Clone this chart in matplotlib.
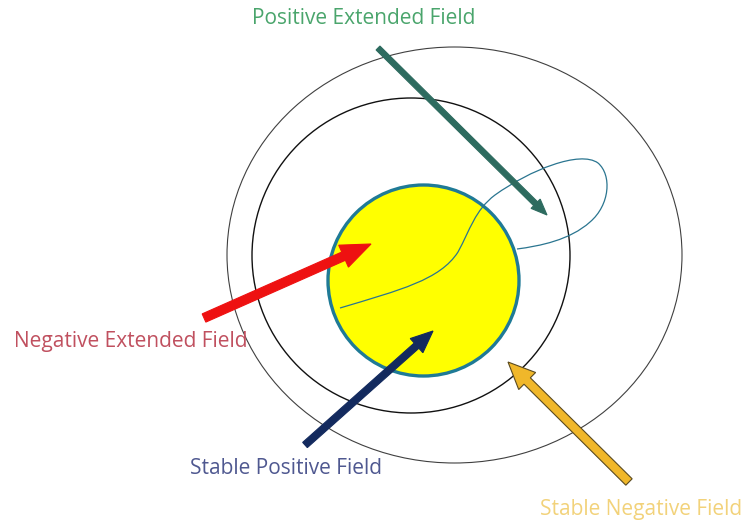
import matplotlib
matplotlib.use("Agg")
import matplotlib.pyplot as plt
from matplotlib.patches import Ellipse, FancyArrow, PathPatch
from matplotlib.path import Path

# ---- data (pixel-space diagram) ----
ring_centers = [(454.5, 255.0), (411.0, 255.5)]
ring_sizes = [(455.0, 416.0), (318.0, 315.0)]
ring_colors = ["#404040", "#111111"]
ring_widths = [0.8, 1.0]

core_center = (423.5, 280.5)
core_radius = 95.5

# loop curve: start point followed by cubic Bezier triples (control, control, end)
loop_start = (340, 308)
loop_segments = [
    [(400, 290), (440, 280), (458, 252)],
    [(470, 230), (475, 210), (495, 195)],
    [(530, 170), (580, 150), (598, 163)],
    [(612, 175), (610, 205), (590, 222)],
    [(570, 240), (540, 246), (517, 249)],
]

arrow_names = ["Positive Extended Field", "Negative Extended Field",
               "Stable Positive Field", "Stable Negative Field"]
arrow_tail_x = [378, 204, 305, 629]
arrow_tail_y = [48, 318, 445, 482]
arrow_tip_x = [547, 371, 433, 508]
arrow_tip_y = [215, 244, 331, 362]
arrow_colors = ["#2d6b5f", "#ee1111", "#132a5e", "#f0b72a"]
arrow_edges = ["#2d6b5f", "#ee1111", "#132a5e", "#5a4a20"]
arrow_shaft = [5.5, 9, 7, 9]
arrow_headw = [13, 24, 19, 24]
arrow_headl = [16, 30, 22, 27]

label_x = [252, 14, 190, 540]
label_y = [18, 342, 468, 510]
label_colors = ["#4aa56c", "#c0505f", "#4f5890", "#f2d27a"]

fig = plt.figure(figsize=(7.5, 5.22), dpi=100)
ax = fig.add_axes([0, 0, 1, 1])
ax.set_xlim(0, 750)
ax.set_ylim(522, 0)
ax.axis("off")

for c, s, col, lw in zip(ring_centers, ring_sizes, ring_colors, ring_widths):
    ax.add_patch(Ellipse(c, s[0], s[1], fill=False, edgecolor=col, linewidth=lw, zorder=1))

ax.add_patch(Ellipse(core_center, 2 * core_radius, 2 * core_radius,
                     facecolor="#ffff00", edgecolor="#1f7a96", linewidth=2.4, zorder=2))

verts = [loop_start]
codes = [Path.MOVETO]
for seg in loop_segments:
    verts.extend(seg)
    codes.extend([Path.CURVE4] * 3)
ax.add_patch(PathPatch(Path(verts, codes), fill=False, edgecolor="#2a7590",
                       linewidth=0.9, zorder=3))

for i in range(4):
    dx = arrow_tip_x[i] - arrow_tail_x[i]
    dy = arrow_tip_y[i] - arrow_tail_y[i]
    ax.add_patch(FancyArrow(arrow_tail_x[i], arrow_tail_y[i], dx, dy,
                            width=arrow_shaft[i], head_width=arrow_headw[i],
                            head_length=arrow_headl[i], length_includes_head=True,
                            facecolor=arrow_colors[i], edgecolor=arrow_edges[i],
                            linewidth=0.8, zorder=4))

for name, x, y, col in zip(arrow_names, label_x, label_y, label_colors):
    ax.text(x, y, name, color=col, fontsize=15, family="Open Sans",
            ha="left", va="center", zorder=5)

fig.savefig("out.png", dpi=100)
